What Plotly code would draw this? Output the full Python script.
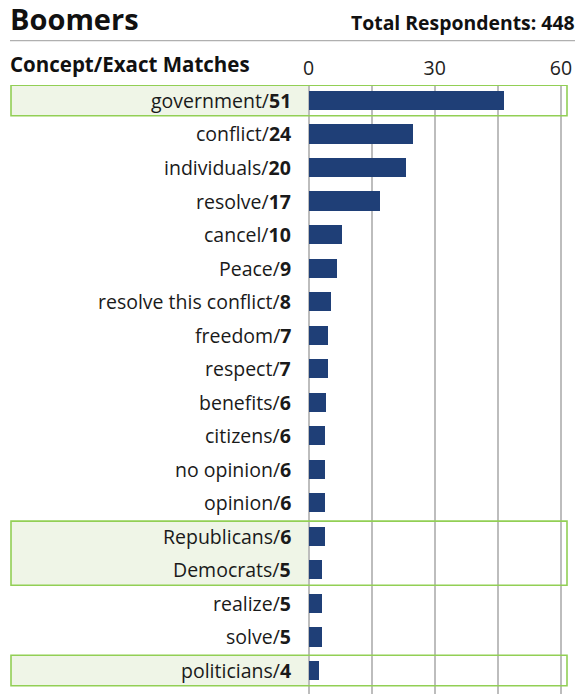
import plotly.graph_objects as go

# ---- data ----
concepts = ["government", "conflict", "individuals", "resolve", "cancel", "Peace",
            "resolve this conflict", "freedom", "respect", "benefits", "citizens",
            "no opinion", "opinion", "Republicans", "Democrats", "realize", "solve",
            "politicians"]
counts = [51, 24, 20, 17, 10, 9, 8, 7, 7, 6, 6, 6, 6, 6, 5, 5, 5, 4]
bar_values = [46.4, 24.8, 23.2, 17.0, 8.0, 6.8, 5.4, 4.6, 4.6, 4.2, 3.9, 3.9,
              3.9, 3.9, 3.2, 3.2, 3.2, 2.5]
tick_values = [0, 15, 30, 45, 60]
tick_labels = ["0", "", "30", "", "60"]
highlight_groups = [(0, 0), (13, 14), (17, 17)]
title_text = "Boomers"
total_text = "Total Respondents: 448"
header_text = "Concept/Exact Matches"

# ---- layout constants ----
W, H = 578, 694
TOP = 85
PX_PER_UNIT = 4.2083
X0_PX = 308.5
xmin = -X0_PX / PX_PER_UNIT
xmax = (W - X0_PX) / PX_PER_UNIT
FONT = "Open Sans"
BAR_COLOR = "#1f3f77"
GREEN_LINE = "#92cf55"
GREEN_FILL = "#eff5e7"
GRID = "#bdbdbd"

def px_to_x(px):
    return (px - X0_PX) / PX_PER_UNIT

def py_to_paper(py):
    return (H - py) / (H - TOP)

n = len(concepts)
ys = list(range(n))

fig = go.Figure()
fig.add_trace(go.Bar(
    x=bar_values, y=ys, orientation="h", width=0.57,
    marker=dict(color=BAR_COLOR, line=dict(width=0)),
    hoverinfo="skip", showlegend=False,
))

shapes = []
for a, b in highlight_groups:
    shapes.append(dict(type="rect", xref="x", yref="y", layer="below",
                       x0=px_to_x(11), x1=0, y0=a - 0.455, y1=b + 0.455,
                       fillcolor=GREEN_FILL, line=dict(width=0)))
    shapes.append(dict(type="rect", xref="x", yref="y", layer="above",
                       x0=px_to_x(11), x1=px_to_x(567), y0=a - 0.455, y1=b + 0.455,
                       fillcolor="rgba(0,0,0,0)", line=dict(color=GREEN_LINE, width=1.6)))
# separator under title
shapes.append(dict(type="line", xref="paper", yref="paper",
                   x0=10 / W, x1=575 / W, y0=py_to_paper(40.7), y1=py_to_paper(40.7),
                   line=dict(color="#b0b0b0", width=1.3)))

annotations = []
for i, (c, k) in enumerate(zip(concepts, counts)):
    annotations.append(dict(xref="x", yref="y", x=px_to_x(293), y=i,
                            xanchor="right", yanchor="middle", showarrow=False,
                            text=f"{c}/<b>{k}</b>",
                            font=dict(family=FONT, size=19.5, color="#1a1a1a")))
annotations.append(dict(xref="paper", yref="paper", x=8 / W, y=py_to_paper(19),
                        xanchor="left", yanchor="middle", showarrow=False,
                        text=f"<b>{title_text}</b>",
                        font=dict(family=FONT, size=29, color="#111111")))
annotations.append(dict(xref="paper", yref="paper", x=577 / W, y=py_to_paper(22),
                        xanchor="right", yanchor="middle", showarrow=False,
                        text=f"<b>{total_text}</b>",
                        font=dict(family=FONT, size=19.4, color="#111111")))
annotations.append(dict(xref="paper", yref="paper", x=8 / W, y=py_to_paper(64),
                        xanchor="left", yanchor="middle", showarrow=False,
                        text=f"<b>{header_text}</b>",
                        font=dict(family=FONT, size=20.5, color="#111111")))

fig.update_layout(
    width=W, height=H,
    margin=dict(l=0, r=0, t=TOP, b=0, pad=0),
    paper_bgcolor="white", plot_bgcolor="white",
    xaxis=dict(range=[xmin, xmax], side="top", tickvals=tick_values,
               ticktext=tick_labels, showgrid=True, gridcolor=GRID, gridwidth=1.5,
               zeroline=False, showline=False, ticks="", ticklabelstandoff=5,
               tickfont=dict(family=FONT, size=19.5, color="#222222"),
               fixedrange=True),
    yaxis=dict(range=[17.70, -0.46], showgrid=False, zeroline=False,
               showticklabels=False, showline=False, ticks="", fixedrange=True),
    shapes=shapes, annotations=annotations,
    bargap=0,
)

fig.write_html("out.html")
